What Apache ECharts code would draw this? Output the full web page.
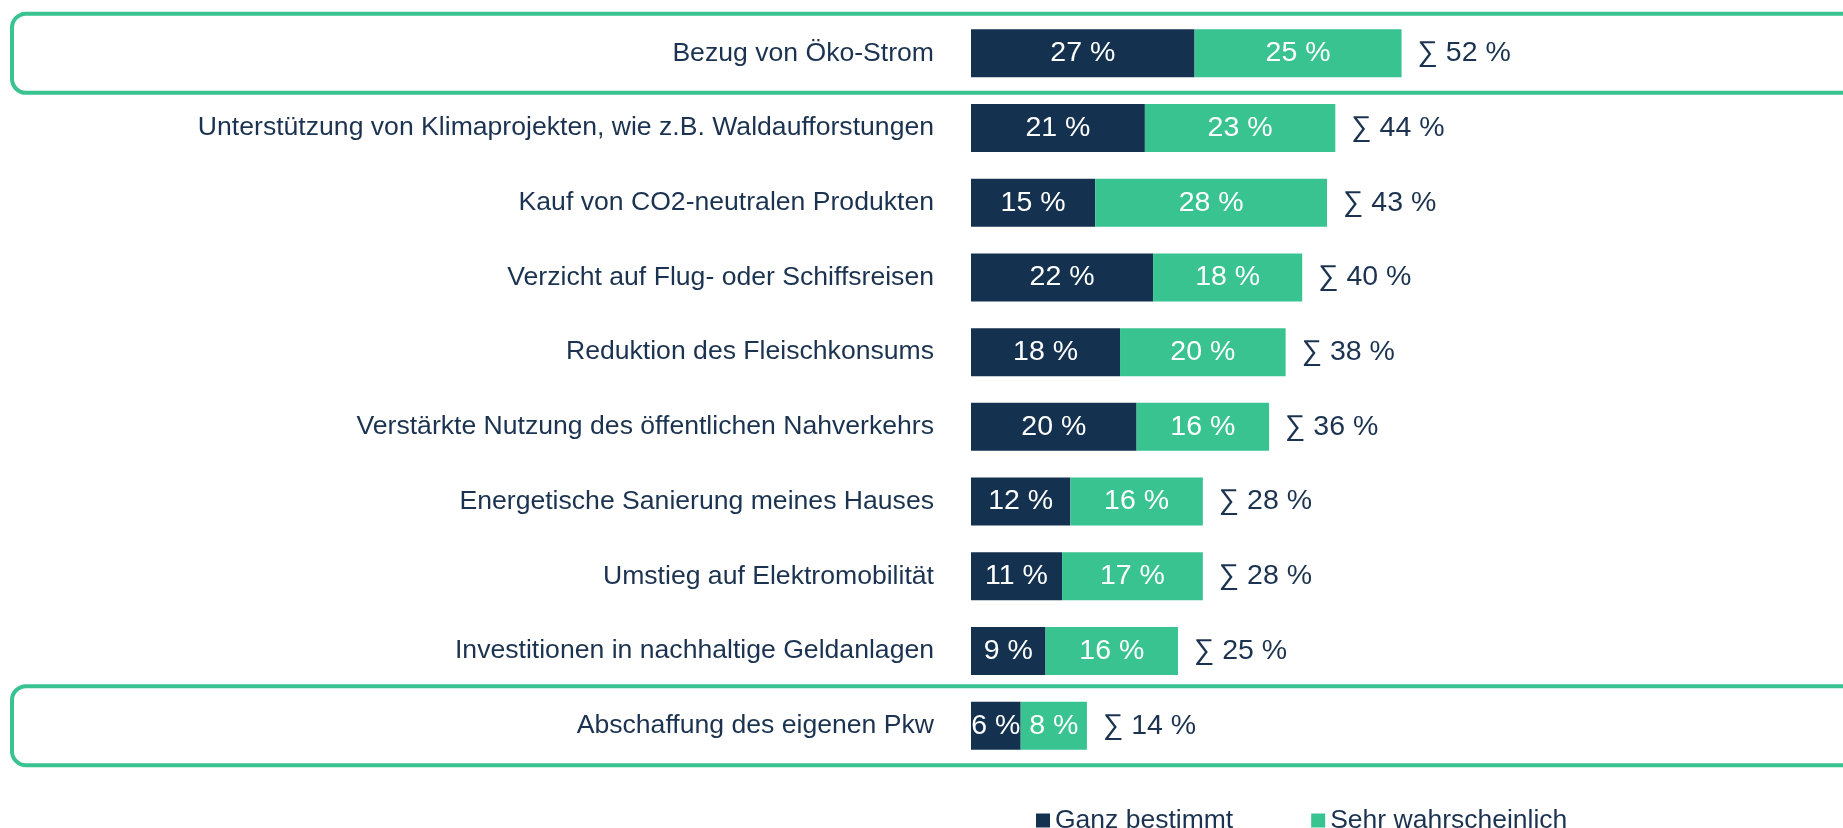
<!DOCTYPE html>
<html>
<head>
<meta charset="utf-8">
<script src="https://cdn.jsdelivr.net/npm/echarts@6/dist/echarts.min.js"></script>
<style>
  html, body { margin: 0; padding: 0; background: #fff; }
  #chart { width: 1843px; height: 828px; }
</style>
</head>
<body>
<div id="chart"></div>
<script>
// Kategorien von oben nach unten
const categories = [
  'Bezug von Öko-Strom',
  'Unterstützung von Klimaprojekten, wie z.B. Waldaufforstungen',
  'Kauf von CO2-neutralen Produkten',
  'Verzicht auf Flug- oder Schiffsreisen',
  'Reduktion des Fleischkonsums',
  'Verstärkte Nutzung des öffentlichen Nahverkehrs',
  'Energetische Sanierung meines Hauses',
  'Umstieg auf Elektromobilität',
  'Investitionen in nachhaltige Geldanlagen',
  'Abschaffung des eigenen Pkw'
];
const ganzBestimmt = [27, 21, 15, 22, 18, 20, 12, 11, 9, 6];
const sehrWahrscheinlich = [25, 23, 28, 18, 20, 16, 16, 17, 16, 8];
const summen = [52, 44, 43, 40, 38, 36, 28, 28, 25, 14];
// Zeilen, die umrandet werden
const highlighted = [0, 9];

const DARK = '#14324f';
const GREEN = '#38c391';
const TEXT = '#1b3350';
const FONT = '"Liberation Sans", Arial, sans-serif';

const chart = echarts.init(document.getElementById('chart'));

const option = {
  animation: false,
  grid: { left: 971, right: 44, top: 16, bottom: 65 },
  xAxis: { type: 'value', min: 0, max: 100, show: false },
  yAxis: {
    type: 'category',
    data: categories,
    inverse: true,
    axisLine: { show: false },
    axisTick: { show: false },
    axisLabel: { color: TEXT, fontSize: 26.6, fontFamily: FONT, margin: 37 }
  },
  legend: {
    data: ['Ganz bestimmt', 'Sehr wahrscheinlich'],
    left: 1031,
    top: 802,
    icon: 'rect',
    itemWidth: 14,
    itemHeight: 14,
    itemGap: 78,
    textStyle: { color: TEXT, fontSize: 26.5, fontFamily: FONT, padding: [0, 0, 0, 0] }
  },
  series: [
    {
      name: 'Ganz bestimmt',
      type: 'bar',
      stack: 'total',
      barWidth: 48,
      data: ganzBestimmt,
      itemStyle: { color: DARK },
      label: {
        show: true, position: 'inside', color: '#fff',
        fontSize: 28.5, fontFamily: FONT, formatter: '{c} %'
      }
    },
    {
      name: 'Sehr wahrscheinlich',
      type: 'bar',
      stack: 'total',
      barWidth: 48,
      data: sehrWahrscheinlich,
      itemStyle: { color: GREEN },
      label: {
        show: true, position: 'inside', color: '#fff',
        fontSize: 28.5, fontFamily: FONT, formatter: '{c} %'
      }
    },
    {
      name: 'Summe',
      type: 'scatter',
      symbolSize: 0,
      data: summen.map((v, i) => [v, i]),
      itemStyle: { opacity: 1 },
      label: {
        show: true, position: 'right', distance: 16, color: TEXT,
        fontSize: 28.5, fontFamily: FONT,
        formatter: (p) => '∑ ' + p.value[0] + ' %'
      },
      silent: true
    }
  ]
};

chart.setOption(option);

// Umrandungen für die hervorgehobenen Zeilen
const boxes = highlighted.map((idx) => {
  const cy = chart.convertToPixel({ yAxisIndex: 0 }, idx);
  return {
    type: 'rect',
    shape: { x: 12, y: cy - 39.5, width: 1880, height: 79, r: 14 },
    style: { fill: 'none', stroke: GREEN, lineWidth: 4 },
    silent: true
  };
});
chart.setOption({ graphic: boxes });
</script>
</body>
</html>
